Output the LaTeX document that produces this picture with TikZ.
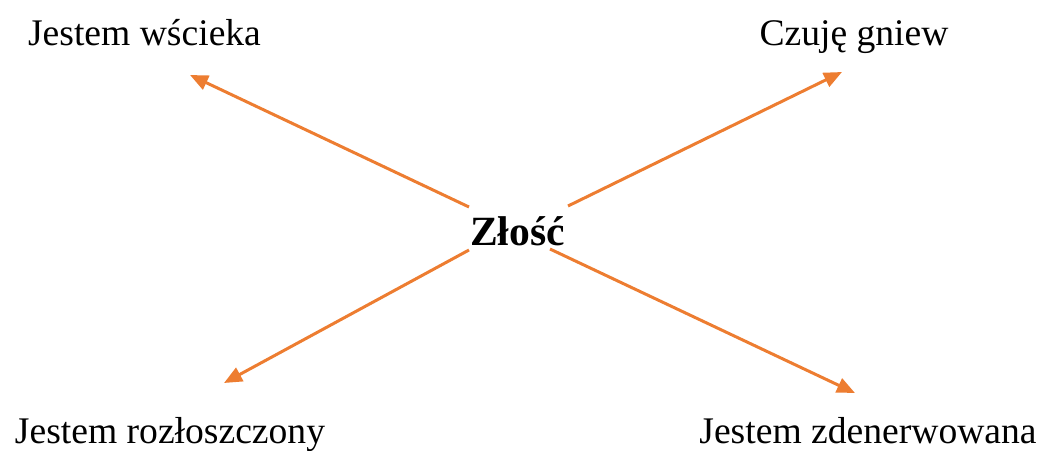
\documentclass[tikz,border=0pt]{standalone}
\usepackage{fontspec}
\setmainfont{Liberation Serif}
\usepackage{xcolor}
\usepackage{tikz}
\usetikzlibrary{positioning,arrows.meta}
\definecolor{angerorange}{HTML}{ED7D31}

\begin{document}
\begin{tikzpicture}[x=0.5pt, y=-0.5pt,
  feel/.style={anchor=base, inner sep=0pt, font=\fontsize{18.8}{22}\selectfont},
  core/.style={anchor=base, inner sep=0pt, font=\fontsize{20.8}{24}\selectfont\bfseries},
  arr/.style={angerorange, line width=1.5pt, -{Triangle[length=9pt,width=7.5pt]}}]
% canvas in pixels: 1038 x 450, y grows downwards
\useasboundingbox (0,0) rectangle (1038,450);
% centre word
\node[core] (zlosc) at (517.5,245) {Złość};
% the four feelings
\node[feel] (wscieka) at (144.5,45) {Jestem wścieka};
\node[feel] (gniew) at (854,45) {Czuję gniew};
\node[feel] (rozlosz) at (170,443) {Jestem rozłoszczony};
\node[feel] (zdener) at (868,443) {Jestem zdenerwowana};
% arrow ends
\coordinate (s1) at (469,207); \coordinate (t1) at (190,75);
\coordinate (s2) at (568,206); \coordinate (t2) at (842,72);
\coordinate (s3) at (469,250); \coordinate (t3) at (224,383);
\coordinate (s4) at (550,249); \coordinate (t4) at (855,393);
\foreach \i in {1,...,4}{
  \draw[arr] (s\i) -- (t\i);
}
\end{tikzpicture}
\end{document}
